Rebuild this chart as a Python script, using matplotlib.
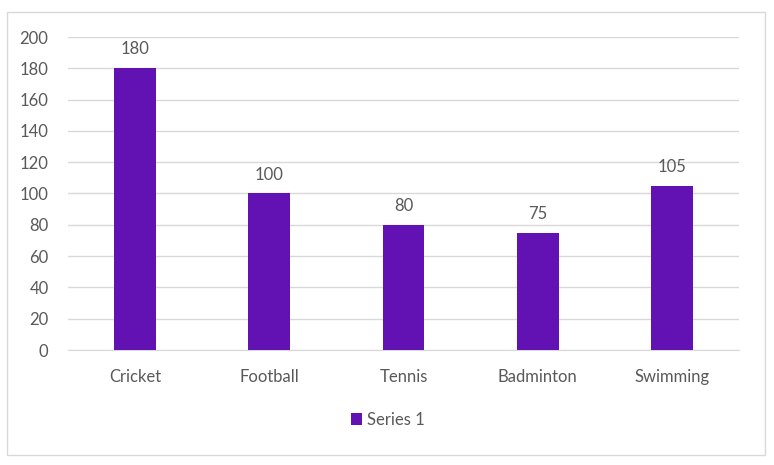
import matplotlib
matplotlib.use("Agg")
import matplotlib.pyplot as plt
from matplotlib.patches import Rectangle

categories = ["Cricket", "Football", "Tennis", "Badminton", "Swimming"]
values = [180, 100, 80, 75, 105]
series_name = "Series 1"
yticks = [0, 20, 40, 60, 80, 100, 120, 140, 160, 180, 200]

plt.rcParams['font.family'] = ['Lato', 'DejaVu Sans']
bar_color = "#6212B3"
text_color = "#595959"
grid_color = "#D9D9D9"
fs = 12

fig = plt.figure(figsize=(7.74, 4.65), dpi=100)
fig.patches.append(Rectangle((7/774, 1 - 455/465), 758/774, 443/465, transform=fig.transFigure,
                             fill=False, edgecolor="#D9D9D9", linewidth=1))

ax = fig.add_axes([68/774, 1 - 350/465, 671/774, 313/465])
x = range(len(categories))
bars = ax.bar(x, values, width=0.31, color=bar_color, label=series_name, zorder=3)
for xi, v in zip(x, values):
    ax.text(xi, v + 7, str(v), ha="center", va="bottom", fontsize=fs, color=text_color)

ax.set_xlim(-0.5, len(categories) - 0.5)
ax.set_ylim(0, 200)
ax.set_yticks(yticks)
ax.set_xticks(list(x))
ax.set_xticklabels(categories)
ax.tick_params(axis="both", length=0, labelsize=fs, labelcolor=text_color)
ax.tick_params(axis="y", pad=14)
ax.tick_params(axis="x", pad=14)
ax.yaxis.grid(True, color=grid_color, linewidth=1, zorder=0)
for s in ["top", "right", "left"]:
    ax.spines[s].set_visible(False)
ax.spines["bottom"].set_color(grid_color)

leg = fig.legend(handles=[bars], labels=[series_name], loc="center", bbox_to_anchor=(388/774, 1 - 420/465),
                 frameon=False, fontsize=fs, handlelength=0.7, handleheight=0.7, handletextpad=0.3)
for t in leg.get_texts():
    t.set_color(text_color)

fig.savefig("out.png", dpi=100)
